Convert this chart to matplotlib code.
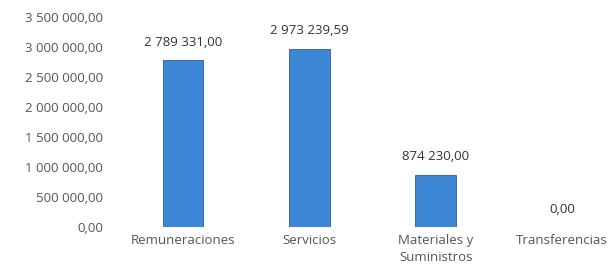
import matplotlib.pyplot as plt

categorias = ["Remuneraciones", "Servicios", "Materiales y\nSuministros", "Transferencias"]
valores = [2789331.00, 2973239.59, 874230.00, 0.00]
ticks_y = [0, 500000, 1000000, 1500000, 2000000, 2500000, 3000000, 3500000]


def fmt(v):
    s = "{:,.2f}".format(v)
    return s.replace(",", " ").replace(".", ",")


plt.rcParams['font.family'] = ['Open Sans', 'DejaVu Sans']
gris = '#555555'

fig = plt.figure(figsize=(6.15, 2.8), dpi=100)
ax = fig.add_axes([120 / 615, 53 / 280, 495 / 615, 210 / 280])

x = list(range(len(categorias)))
ax.bar(x, valores, width=0.32, color='#3d87d6', edgecolor='#2b5e96', linewidth=0.6)

# etiquetas de datos
for xi, v in zip(x, valores):
    ax.annotate(fmt(v), (xi, v), xytext=(0, 8), textcoords='offset points',
                ha='center', va='bottom', fontsize=9.5, color='#333333')

ax.set_xlim(-0.5, 3.42)
ax.set_ylim(0, 3500000)
ax.set_yticks(ticks_y)
ax.set_yticklabels([fmt(t) for t in ticks_y], fontsize=9.5, color=gris)
ax.set_xticks(x)
ax.set_xticklabels(categorias, fontsize=9.5, color=gris, linespacing=1.45)
ax.tick_params(length=0, pad=5)
ax.tick_params(axis='y', pad=12)
for s in ax.spines.values():
    s.set_visible(False)

fig.savefig("out.png", dpi=100)
